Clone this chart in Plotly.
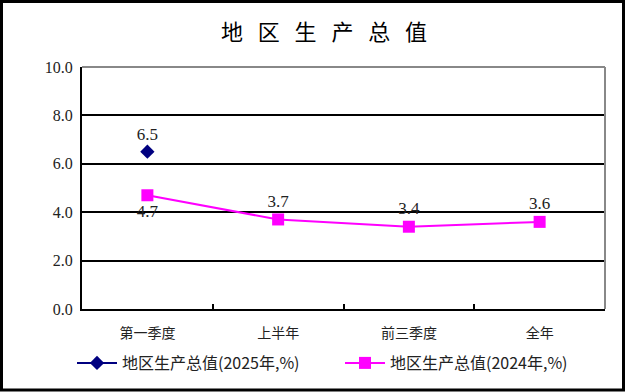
import plotly.graph_objects as go

categories = ["第一季度", "上半年", "前三季度", "全年"]
values_2025 = [6.5, None, None, None]
values_2024 = [4.7, 3.7, 3.4, 3.6]
labels_2025 = ["6.5", "", "", ""]
labels_2024 = ["4.7", "3.7", "3.4", "3.6"]
pos_2024 = ["bottom center", "top center", "top center", "top center"]
y_ticks = [0, 2, 4, 6, 8, 10]
y_tick_text = ["0.0", "2.0", "4.0", "6.0", "8.0", "10.0"]
name_2025 = "地区生产总值(2025年,%)"
name_2024 = "地区生产总值(2024年,%)"
title_text = "地   区   生   产   总   值"

W, H = 626, 392
L, R, T, B = 82, 21, 67, 83
pw, ph = W - L - R, H - T - B

serif = "Liberation Serif, Times New Roman, serif"
cjk = "Noto Sans CJK SC, sans-serif"

fig = go.Figure()
fig.add_trace(go.Scatter(
    x=categories, y=values_2025, name=name_2025, mode="lines+markers+text",
    line=dict(color="#000080", width=2),
    marker=dict(symbol="diamond", size=11, color="#000080"),
    text=labels_2025, textposition="top center",
    textfont=dict(family=serif, size=17, color="#222222"),
))
fig.add_trace(go.Scatter(
    x=categories, y=values_2024, name=name_2024, mode="lines+markers+text",
    line=dict(color="#FF00FF", width=2),
    marker=dict(symbol="square", size=12, color="#FF00FF"),
    text=labels_2024, textposition=pos_2024,
    textfont=dict(family=serif, size=17, color="#222222"),
))

fig.update_layout(
    width=W, height=H,
    margin=dict(l=L, r=R, t=T, b=B, autoexpand=False),
    paper_bgcolor="white", plot_bgcolor="white",
    title=dict(text=title_text, x=324 / W, xanchor="center", y=1 - 32 / H, yanchor="middle",
               font=dict(family=cjk, size=22, color="black")),
    showlegend=True,
    legend=dict(orientation="h", x=(72 - L) / pw, xanchor="left",
                y=-(363 - (T + ph)) / ph, yanchor="middle",
                font=dict(family=cjk, size=16, color="#222222"),
                itemwidth=40, traceorder="normal", entrywidth=213),
    xaxis=dict(
        range=[-0.5, 3.5],
        showline=True, linecolor="black", linewidth=2, mirror=False,
        ticks="inside", tickson="boundaries", ticklen=5, tickcolor="black", tickwidth=2,
        tickfont=dict(family=cjk, size=14, color="#222222"),
        ticklabelstandoff=10,
        showgrid=False, fixedrange=True,
    ),
    yaxis=dict(
        range=[0, 10], tickvals=y_ticks, ticktext=y_tick_text,
        showline=True, linecolor="black", linewidth=2,
        showgrid=True, gridcolor="black", gridwidth=2,
        ticks="", tickfont=dict(family=serif, size=16, color="#222222"),
        ticklabelstandoff=4,
        zeroline=False, fixedrange=True,
    ),
    shapes=[
        dict(type="line", xref="paper", yref="paper", x0=0, x1=1, y0=1, y1=1,
             line=dict(color="#888888", width=2)),
        dict(type="line", xref="paper", yref="paper", x0=1, x1=1, y0=0, y1=1,
             line=dict(color="#888888", width=2)),
        dict(type="rect", xref="paper", yref="paper",
             x0=(1.5 - L) / pw, x1=(W - 2.5 - L) / pw,
             y0=-(H - 2 - T - ph) / ph, y1=1 + (T - 1.5) / ph,
             line=dict(color="black", width=3)),
    ],
)

fig.write_html("out.html", config={"displayModeBar": False},
               post_script="document.body.style.margin='0';")
